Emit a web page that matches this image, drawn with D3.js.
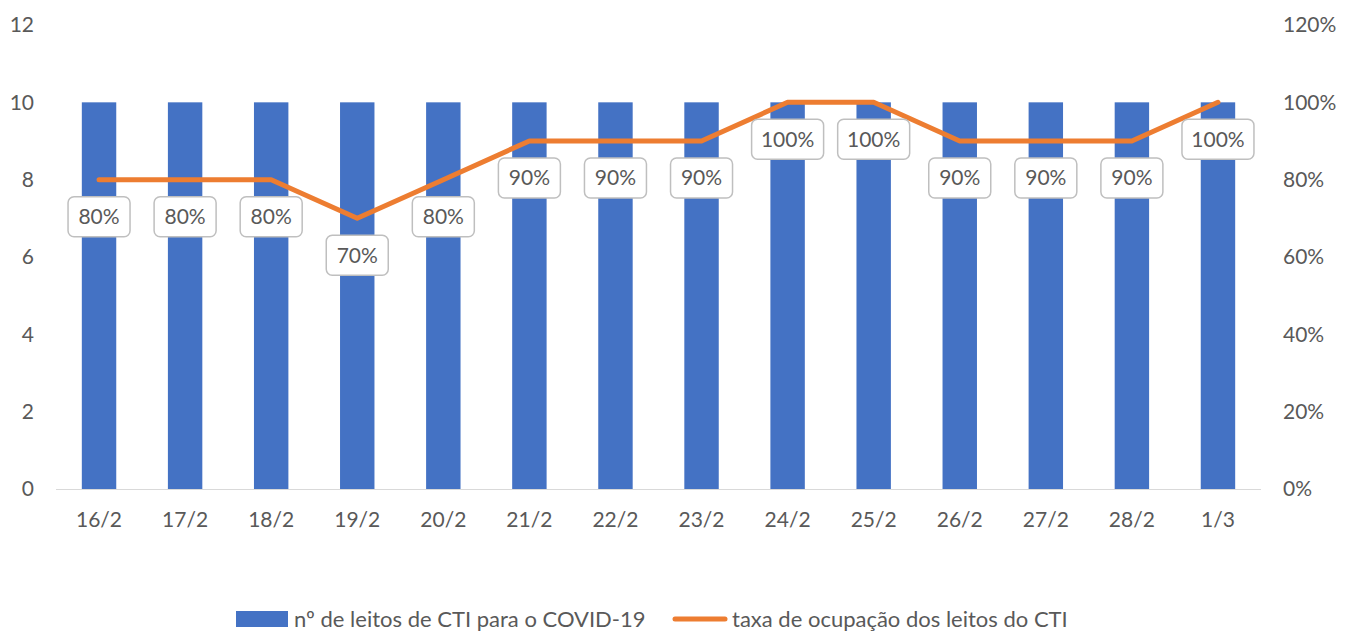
<!DOCTYPE html>
<html>
<head>
<meta charset="utf-8">
<script src="https://cdn.jsdelivr.net/npm/d3@7"></script>
<style>
  body { margin: 0; background: #fff; }
  text { font-family: Lato, "Open Sans", sans-serif; fill: #595959; }
</style>
</head>
<body>
<div id="chart"></div>
<script>
const days = ['16/2', '17/2', '18/2', '19/2', '20/2', '21/2', '22/2', '23/2', '24/2', '25/2', '26/2', '27/2', '28/2', '1/3'];
const beds = [10, 10, 10, 10, 10, 10, 10, 10, 10, 10, 10, 10, 10, 10];
const occupancy = [0.8, 0.8, 0.8, 0.7, 0.8, 0.9, 0.9, 0.9, 1.0, 1.0, 0.9, 0.9, 0.9, 1.0];
const leftTicks = [0, 2, 4, 6, 8, 10, 12];
const rightTicks = [0, 0.2, 0.4, 0.6, 0.8, 1.0, 1.2];
const seriesNames = ['nº de leitos de CTI para o COVID-19', 'taxa de ocupação dos leitos do CTI'];

const width = 1355;
const height = 633;
const plotLeft = 56, plotRight = 1261, plotTop = 25, plotBottom = 489;

const svg = d3.select('#chart')
  .append('svg')
  .attr('width', width)
  .attr('height', height)

const x = d3.scaleBand()
  .domain(days)
  .range([plotLeft, plotRight])
  .paddingInner(0.6)
  .paddingOuter(0.3)

const yLeft = d3.scaleLinear().domain([0, 12]).range([plotBottom, plotTop])
const yRight = d3.scaleLinear().domain([0, 1.2]).range([plotBottom, plotTop])

// left axis labels
svg.append('g')
  .selectAll('text')
  .data(leftTicks)
  .enter()
  .append('text')
  .attr('x', 34)
  .attr('y', d => yLeft(d))
  .attr('dy', '0.35em')
  .style('text-anchor', 'end')
  .style('font-size', '21px')
  .text(d => d)

// right axis labels
svg.append('g')
  .selectAll('text')
  .data(rightTicks)
  .enter()
  .append('text')
  .attr('x', 1283)
  .attr('y', d => yRight(d))
  .attr('dy', '0.35em')
  .style('font-size', '21px')
  .text(d => Math.round(d * 100) + '%')

// bars
svg.selectAll('.bar')
  .data(beds)
  .enter()
  .append('rect')
  .attr('class', 'bar')
  .attr('x', (d, i) => x(days[i]))
  .attr('width', x.bandwidth())
  .attr('y', d => yLeft(d))
  .attr('height', d => plotBottom - yLeft(d))
  .style('fill', '#4472C4')

// baseline
svg.append('line')
  .attr('x1', plotLeft).attr('x2', plotRight)
  .attr('y1', plotBottom + 0.5).attr('y2', plotBottom + 0.5)
  .style('stroke', '#D9D9D9')
  .style('stroke-width', 1)

// x labels
svg.append('g')
  .selectAll('text')
  .data(days)
  .enter()
  .append('text')
  .attr('x', d => x(d) + x.bandwidth() / 2)
  .attr('y', 520)
  .attr('dy', '0.35em')
  .style('text-anchor', 'middle')
  .style('font-size', '21px')
  .text(d => d)

// line
const line = d3.line()
  .x((d, i) => x(days[i]) + x.bandwidth() / 2)
  .y(d => yRight(d))

svg.append('path')
  .datum(occupancy)
  .attr('d', line)
  .style('fill', 'none')
  .style('stroke', '#ED7D31')
  .style('stroke-width', 5)
  .style('stroke-linecap', 'round')
  .style('stroke-linejoin', 'round')

// data labels
const labels = svg.selectAll('.lbl')
  .data(occupancy)
  .enter()
  .append('g')
  .attr('class', 'lbl')
  .attr('transform', (d, i) => `translate(${x(days[i]) + x.bandwidth() / 2}, ${yRight(d) + 37})`)

labels.append('rect')
  .attr('x', d => d >= 1 ? -36 : -31)
  .attr('y', -20)
  .attr('width', d => d >= 1 ? 72 : 62)
  .attr('height', 40)
  .attr('rx', 6)
  .style('fill', '#fff')
  .style('stroke', '#BFBFBF')
  .style('stroke-width', 1.5)

labels.append('text')
  .attr('dy', '0.35em')
  .style('text-anchor', 'middle')
  .style('font-size', '21px')
  .text(d => Math.round(d * 100) + '%')

// legend
const legend = svg.append('g').attr('transform', 'translate(0, 619)')

legend.append('rect')
  .attr('x', 236).attr('y', -8)
  .attr('width', 52).attr('height', 16)
  .style('fill', '#4472C4')

legend.append('text')
  .attr('x', 294).attr('dy', '0.35em')
  .style('font-size', '22px')
  .text(seriesNames[0])

legend.append('line')
  .attr('x1', 675).attr('x2', 725)
  .style('stroke', '#ED7D31')
  .style('stroke-width', 5)
  .style('stroke-linecap', 'round')

legend.append('text')
  .attr('x', 732).attr('dy', '0.35em')
  .style('font-size', '22px')
  .text(seriesNames[1])
</script>
</body>
</html>
